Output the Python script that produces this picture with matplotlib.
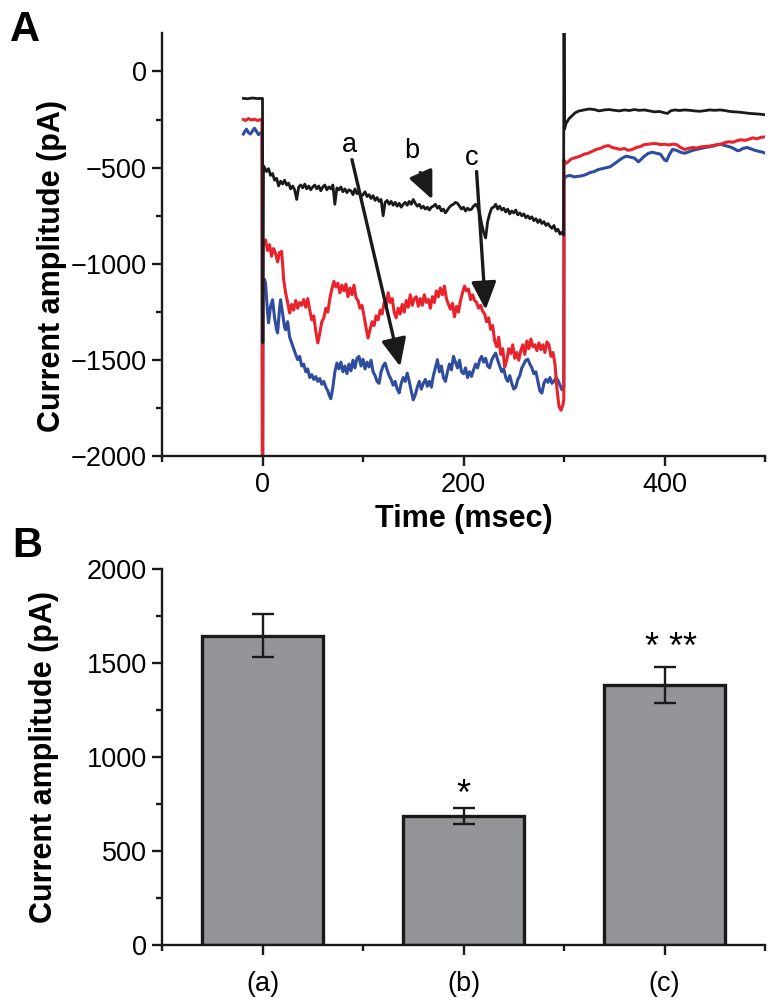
import matplotlib
matplotlib.use("Agg")
from matplotlib import pyplot as plt
from matplotlib.ticker import MultipleLocator, FixedLocator
import numpy as np

plt.rcParams['font.family'] = ['Liberation Sans', 'DejaVu Sans']

# ---- panel A: current traces (time in msec, current in pA) ----
t_black = [-19, -15, -10, -5, -1, 0, 0.3, 1,
           2, 4, 6, 8, 10, 12, 14, 16, 18, 20, 22, 24, 26, 28, 30, 32, 34, 36, 38, 40,
           42, 44, 46, 48, 50, 52, 54, 56, 58, 60, 62, 64, 66, 68, 70, 72, 74, 76, 78, 80,
           82, 84, 86, 88, 90, 92, 94, 96, 98, 100, 102, 104, 106, 108, 110, 112, 114, 116, 118, 120,
           122, 124, 126, 128, 130, 132, 134, 136, 138, 140, 142, 144, 146, 148, 150, 152, 154, 156, 158, 160,
           162, 164, 166, 168, 170, 172, 174, 176, 178, 180, 182, 184, 186, 188, 190, 192, 194, 196, 198, 200,
           202, 204, 206, 208, 210, 212, 214, 216, 218, 220, 222, 224, 226, 228, 230, 232, 234, 236, 238, 240,
           242, 244, 246, 248, 250, 252, 254, 256, 258, 260, 262, 264, 266, 268, 270, 272, 274, 276, 278, 280,
           282, 284, 286, 288, 290, 292, 294, 296, 298, 299.5, 300, 300.5,
           302, 305, 308, 311, 315, 320, 325, 330, 335, 340, 345, 350, 355, 360, 365, 370, 375, 380,
           385, 390, 395, 400, 403, 406, 410, 415, 420, 425, 430, 435, 440, 445, 450, 455, 460, 465,
           470, 475, 480, 485, 490, 495, 500]
i_black = [-140, -142, -138, -141, -140, -140, -1410, -490,
           -500, -520, -505, -540, -530, -565, -555, -595, -570, -585, -565, -590, -580, -610, -595, -615, -665, -600, -590, -605,
           -585, -610, -595, -615, -600, -590, -610, -595, -620, -600, -590, -615, -600, -610, -590, -690, -605, -615, -600, -625,
           -610, -630, -615, -620, -640, -610, -635, -620, -650, -640, -625, -650, -640, -660, -645, -670, -655, -675, -665, -750,
           -680, -670, -690, -675, -695, -680, -700, -685, -705, -690, -680, -695, -675, -690, -665, -685, -700, -690, -710, -700,
           -715, -705, -720, -705, -700, -690, -710, -700, -725, -715, -735, -720, -705, -695, -690, -680, -685, -700, -715, -705,
           -725, -710, -720, -715, -700, -690, -705, -735, -790, -835, -865, -780, -740, -710, -705, -690, -715, -700, -720, -710,
           -730, -715, -740, -725, -735, -720, -745, -735, -750, -740, -760, -750, -765, -755, -775, -765, -785, -770, -790, -780,
           -800, -790, -805, -815, -800, -830, -820, -845, -835, -850, 400, -300,
           -270, -245, -230, -215, -205, -200, -195, -198, -205, -200, -198, -202, -205, -200, -203, -198, -202, -200,
           -205, -210, -208, -215, -218, -205, -200, -203, -200, -202, -205, -207, -204, -200, -202, -200, -203, -208,
           -210, -212, -215, -218, -220, -222, -225]

t_red = [-19, -17, -14, -11, -8, -5, -2, -0.5, 0, 0.5,
         2, 3, 5, 7, 9, 11, 13, 15, 17, 19, 20, 21, 23, 25, 27, 29, 31, 33, 35, 37, 39,
         41, 43, 45, 47, 49, 51, 53, 55, 57, 59, 61, 63, 65, 67, 69, 71, 73, 75, 77, 79,
         81, 83, 85, 87, 89, 91, 93, 95, 97, 99, 101, 103, 105, 107, 109, 111, 113, 115, 117, 119,
         121, 123, 125, 127, 129, 131, 133, 135, 137, 139, 141, 143, 145, 147, 149, 151, 153, 155, 157, 159,
         161, 163, 165, 167, 169, 171, 173, 175, 177, 179, 181, 183, 185, 187, 189, 191, 193, 195, 197, 199,
         201, 203, 205, 207, 209, 211, 213, 215, 217, 219, 221, 223, 225, 227, 229, 231, 233, 235, 237, 239,
         241, 243, 245, 247, 249, 251, 253, 255, 257, 259, 261, 263, 265, 267, 269, 271, 273, 275, 277, 279,
         281, 283, 285, 287, 289, 291, 293, 295, 297, 299, 299.8, 300,
         301, 304, 307, 310, 313, 316, 320, 324, 328, 332, 336, 340, 344, 348, 352, 356, 360, 364, 368, 372,
         376, 380, 384, 388, 392, 396, 400, 404, 408, 412, 416, 420, 424, 428, 432, 436, 440, 444, 448, 452,
         456, 460, 464, 468, 472, 476, 480, 484, 488, 492, 496, 500]
i_red = [-250, -255, -245, -252, -248, -255, -250, -250, -2600, -880,
         -890, -875, -930, -900, -960, -920, -945, -990, -940, -935, -1000, -1080, -1150, -1200, -1255, -1210, -1240, -1190, -1230, -1200, -1215,
         -1185, -1225, -1180, -1240, -1290, -1270, -1350, -1410, -1360, -1300, -1280, -1230, -1250, -1180, -1130, -1090, -1120, -1100, -1150, -1110,
         -1140, -1105, -1170, -1125, -1160, -1110, -1175, -1190, -1230, -1215, -1270, -1330, -1385, -1340, -1300, -1320, -1270, -1290, -1240, -1260,
         -1200, -1220, -1150, -1200, -1180, -1250, -1280, -1230, -1260, -1210, -1250, -1190, -1225, -1160, -1215, -1180, -1170, -1220, -1180, -1215,
         -1160, -1200, -1185, -1230, -1170, -1200, -1140, -1170, -1125, -1160, -1115, -1180, -1210, -1235, -1205, -1275, -1220, -1250, -1190, -1150,
         -1115, -1140, -1130, -1185, -1160, -1190, -1200, -1230, -1215, -1245, -1260, -1300, -1280, -1340, -1320, -1400, -1430, -1380, -1470, -1440,
         -1535, -1500, -1440, -1465, -1420, -1490, -1460, -1500, -1450, -1420, -1470, -1400, -1440, -1390, -1430, -1420, -1450, -1410, -1445, -1420,
         -1460, -1405, -1420, -1480, -1460, -1520, -1650, -1740, -1760, -1730, -1700, -460,
         -480, -470, -455, -450, -445, -440, -430, -425, -415, -405, -400, -390, -385, -395, -400, -405, -400, -410, -405, -395,
         -390, -380, -378, -375, -375, -380, -378, -382, -378, -380, -395, -405, -400, -395, -398, -392, -390, -388, -385, -380,
         -378, -370, -365, -368, -360, -355, -358, -352, -345, -350, -342, -340]

t_blue = [-19, -18, -16, -14, -12, -10, -8, -6, -4, -2, -0.5, 0, 0.5,
          2, 3, 5, 6, 8, 10, 12, 14, 15, 17, 18, 20, 22, 23, 25, 27, 29, 31, 33, 35, 37, 39,
          41, 43, 45, 47, 49, 51, 53, 55, 57, 59, 61, 63, 65, 67, 68, 70, 72, 74, 76, 78, 80,
          82, 84, 86, 88, 90, 92, 94, 96, 98, 100, 102, 104, 106, 108, 110, 112, 114, 116, 118, 120,
          122, 124, 126, 128, 130, 132, 134, 136, 138, 140, 142, 144, 146, 148, 150, 152, 154, 156, 158, 160,
          162, 164, 166, 168, 170, 172, 174, 176, 178, 180, 182, 184, 186, 188, 190, 192, 194, 196, 198, 200,
          202, 204, 206, 208, 210, 212, 214, 216, 218, 220, 222, 224, 226, 228, 230, 232, 234, 236, 238, 240,
          242, 244, 246, 248, 250, 252, 254, 256, 258, 260, 262, 264, 266, 268, 270, 272, 274, 276, 278, 280,
          282, 284, 286, 288, 290, 292, 294, 296, 298, 299.8, 300,
          302, 306, 310, 314, 318, 322, 326, 330, 334, 338, 342, 346, 350, 354, 358, 362, 366, 370, 374, 376,
          380, 384, 388, 392, 396, 400, 402, 405, 408, 412, 416, 420, 424, 428, 432, 436, 440, 444, 448, 452,
          456, 460, 464, 468, 472, 474, 478, 482, 486, 490, 494, 498, 500]
i_blue = [-325, -315, -300, -318, -325, -310, -295, -312, -328, -320, -315, -2600, -1100,
          -1080, -1100, -1250, -1306, -1220, -1186, -1280, -1340, -1358, -1230, -1186, -1260, -1330, -1342, -1300, -1380, -1410, -1440, -1470, -1497, -1480, -1530,
          -1520, -1560, -1545, -1590, -1575, -1600, -1585, -1610, -1595, -1625, -1610, -1640, -1660, -1690, -1700, -1640, -1560, -1515, -1545, -1510, -1560,
          -1530, -1570, -1520, -1555, -1500, -1540, -1490, -1480, -1530, -1495, -1545, -1510, -1535, -1500, -1560, -1580, -1610, -1620, -1560, -1530,
          -1515, -1550, -1580, -1600, -1630, -1610, -1650, -1670, -1620, -1590, -1610, -1567, -1610, -1660, -1706, -1680, -1640, -1610, -1650, -1620,
          -1600, -1635, -1610, -1640, -1580, -1540, -1497, -1560, -1530, -1590, -1610, -1560, -1520, -1550, -1480, -1510, -1540, -1500, -1560, -1570,
          -1540, -1590, -1560, -1584, -1550, -1520, -1540, -1500, -1480, -1510, -1490, -1530, -1540, -1500, -1480, -1463, -1500, -1530, -1560, -1545,
          -1590, -1610, -1580, -1620, -1650, -1640, -1600, -1580, -1540, -1520, -1500, -1495, -1520, -1540, -1570, -1560, -1610, -1660, -1671, -1620,
          -1600, -1615, -1590, -1620, -1610, -1590, -1605, -1630, -1654, -1640, -560,
          -545, -540, -548, -545, -542, -535, -525, -520, -510, -505, -500, -495, -480, -465, -450, -440, -445, -450, -470, -460,
          -440, -425, -420, -425, -430, -460, -465, -430, -405, -410, -420, -425, -418, -410, -405, -400, -395, -392, -388, -382,
          -378, -385, -390, -398, -410, -412, -400, -395, -402, -410, -415, -420, -425]

# arrow annotations: label, label position, arrow tail, arrow head
arrow_labels = ['a', 'b', 'c']
label_pos = [(86, -380), (149, -415), (208, -452)]
arrow_tail = [(89, -458), (157, -525), (213, -520)]
arrow_head = [(137, -1533), (169, -665), (222, -1238)]

# ---- panel B: mean current amplitude ----
groups = ['(a)', '(b)', '(c)']
amp_mean = [1645, 686, 1383]
amp_err = [115, 45, 96]
stars = ['', '*', '* **']
star_y = [0, 745, 1525]

red = '#e8232b'
blue = '#2f4d9e'
black = '#1a1a1a'

fig = plt.figure(figsize=(7.77, 10.07), dpi=100)
axA = fig.add_axes([0.2085, 0.5467, 0.7761, 0.4206])
axB = fig.add_axes([0.2085, 0.0616, 0.7761, 0.3734])

for ax in (axA, axB):
    ax.spines['top'].set_visible(False)
    ax.spines['right'].set_visible(False)
    for s in ('left', 'bottom'):
        ax.spines[s].set_linewidth(1.7)
        ax.spines[s].set_color(black)
    ax.tick_params(which='major', direction='out', length=7, width=1.7, labelsize=19.5, pad=4, color=black)
    ax.tick_params(which='minor', direction='out', length=4, width=1.7, color=black)

axA.plot(t_blue, i_blue, color=blue, lw=2.2)
axA.plot(t_red, i_red, color=red, lw=2.2)
axA.plot(t_black, i_black, color=black, lw=2.0)
axA.set_xlim(-100, 500)
axA.set_ylim(-2000, 200)
axA.xaxis.set_major_locator(FixedLocator([0, 200, 400]))
axA.xaxis.set_minor_locator(FixedLocator([-100, 100, 300, 500]))
axA.yaxis.set_major_locator(MultipleLocator(500))
axA.yaxis.set_minor_locator(MultipleLocator(250))
axA.set_xlabel('Time (msec)', fontsize=22, fontweight='bold')
axA.xaxis.set_label_coords(0.5, -0.112)
axA.xaxis.label.set_va('top')
axA.set_ylabel('Current amplitude (pA)', fontsize=22, fontweight='bold')
axA.yaxis.set_label_coords(-0.158, 0.45)

for lab, lp, tail, head in zip(arrow_labels, label_pos, arrow_tail, arrow_head):
    axA.text(lp[0], lp[1], lab, fontsize=19.5, ha='center', va='center')
    axA.annotate('', xy=head, xytext=tail,
                 arrowprops=dict(arrowstyle='-|>,head_length=0.85,head_width=0.38',
                                 color=black, lw=2.4, mutation_scale=20,
                                 shrinkA=0, shrinkB=0))

x = np.arange(1, len(groups) + 1)
axB.bar(x, amp_mean, width=0.6, color='#939598', edgecolor=black, linewidth=2.4, zorder=2)
axB.errorbar(x, amp_mean, yerr=amp_err, fmt='none', ecolor=black, elinewidth=1.7,
             capsize=8, capthick=1.7, zorder=3)
for xi, s, sy in zip(x, stars, star_y):
    if s:
        axB.text(xi + 0.03 * (len(s) > 1), sy, s, fontsize=26, ha='center', va='baseline')
axB.set_xlim(0.5, 3.5)
axB.set_ylim(0, 2000)
axB.set_xticks(x)
axB.set_xticklabels(groups)
axB.xaxis.set_minor_locator(FixedLocator([0.5, 1.5, 2.5, 3.5]))
axB.yaxis.set_major_locator(MultipleLocator(500))
axB.yaxis.set_minor_locator(MultipleLocator(250))
axB.tick_params(axis='x', which='major', pad=12)
axB.set_ylabel('Current amplitude (pA)', fontsize=22, fontweight='bold')
axB.yaxis.set_label_coords(-0.17, 0.5)

fig.text(0.013, 0.99, 'A', fontsize=30, fontweight='bold', ha='left', va='top')
fig.text(0.016, 0.478, 'B', fontsize=30, fontweight='bold', ha='left', va='top')

fig.savefig('out.png', dpi=100)
